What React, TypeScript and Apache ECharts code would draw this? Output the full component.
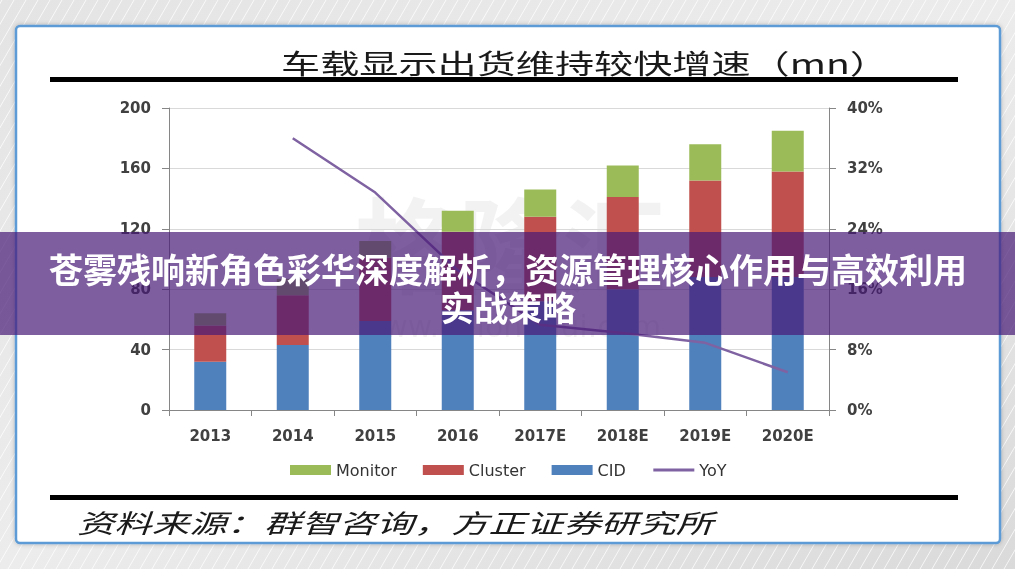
import React, { useEffect, useRef } from 'react';
import * as echarts from 'echarts';

const categories = ['2013', '2014', '2015', '2016', '2017E', '2018E', '2019E', '2020E'];
const cid = [32, 43, 59, 66, 72, 80, 88, 88];
const cluster = [24, 33, 42, 52, 56, 61, 64, 70];
const monitor = [8, 11, 11, 14, 18, 21, 24, 27];
const yoy = [null, 36, 28.8, 18.5, 11.3, 10.2, 8.9, 5.0];
const leftTicks = [0, 40, 80, 120, 160, 200];
const rightTicks = [0, 8, 16, 24, 32, 40];
const legendNames = ['Monitor', 'Cluster', 'CID', 'YoY'];
const chartTitle = '车载显示出货维持较快增速（mn）';
const sourceNote = '资料来源：群智咨询，方正证券研究所';
const bannerLines = ['苍雾残响新角色彩华深度解析，资源管理核心作用与高效利用', '实战策略'];
const watermarkMain = '格隆汇';
const watermarkSub = 'www.gelonghui.com';

const W = 1015;
const H = 569;

function buildStripes() {
  const els: any[] = [];
  const dx = H * 0.58;
  for (let x0 = -400; x0 < W + 20; x0 += 12) {
    els.push({
      type: 'line',
      z: -19,
      silent: true,
      shape: { x1: x0, y1: H, x2: x0 + dx, y2: 0 },
      style: { stroke: 'rgba(255,255,255,0.75)', lineWidth: 1 },
    });
  }
  return els;
}

export default function App() {
  const ref = useRef<HTMLDivElement>(null);
  useEffect(() => {
    if (!ref.current) return;
    const chart = echarts.init(ref.current, undefined, { renderer: 'svg' });
    const axisFont = 'DejaVu Sans';
    const cjk = '"Noto Sans CJK SC", sans-serif';
    const option: any = {
      animation: false,
      grid: { left: 169, right: W - 829, top: 108, bottom: H - 410 },
      legend: {
        data: [
          { name: legendNames[0], icon: 'rect' },
          { name: legendNames[1], icon: 'rect' },
          { name: legendNames[2], icon: 'rect' },
          { name: legendNames[3], itemStyle: { opacity: 0 }, lineStyle: { width: 3 } },
        ],
        left: 285,
        top: 457,
        itemWidth: 41,
        itemHeight: 10,
        itemGap: 26,
        textStyle: { fontFamily: axisFont, fontSize: 16, color: '#333' },
      },
      xAxis: {
        type: 'category',
        data: categories,
        axisLine: { lineStyle: { color: '#868686', width: 1 } },
        axisTick: { show: true, length: 6, lineStyle: { color: '#868686' } },
        axisLabel: { color: '#404040', fontFamily: axisFont, fontWeight: 'bold', fontSize: 15, margin: 18 },
      },
      yAxis: [
        {
          type: 'value',
          min: leftTicks[0],
          max: leftTicks[leftTicks.length - 1],
          interval: leftTicks[1] - leftTicks[0],
          axisLine: { show: true, lineStyle: { color: '#868686' } },
          axisTick: { show: true, length: 7, lineStyle: { color: '#868686' } },
          splitLine: { lineStyle: { color: '#d9d9d9' } },
          axisLabel: { color: '#404040', fontFamily: axisFont, fontWeight: 'bold', fontSize: 15, margin: 18 },
        },
        {
          type: 'value',
          position: 'right',
          min: rightTicks[0],
          max: rightTicks[rightTicks.length - 1],
          interval: rightTicks[1] - rightTicks[0],
          axisLine: { show: true, lineStyle: { color: '#868686' } },
          axisTick: { show: true, length: 7, lineStyle: { color: '#868686' } },
          splitLine: { show: false },
          axisLabel: {
            color: '#404040', fontFamily: axisFont, fontWeight: 'bold', fontSize: 15, margin: 18,
            formatter: '{value}%',
          },
        },
      ],
      series: [
        { name: 'CID', type: 'bar', stack: 'total', barWidth: 32, itemStyle: { color: '#4f81bd' }, data: cid },
        { name: 'Cluster', type: 'bar', stack: 'total', barWidth: 32, itemStyle: { color: '#c0504d' }, data: cluster },
        { name: 'Monitor', type: 'bar', stack: 'total', barWidth: 32, itemStyle: { color: '#9bbb59' }, data: monitor },
        {
          name: 'YoY', type: 'line', yAxisIndex: 1, symbol: 'none', data: yoy,
          lineStyle: { color: '#7f62a1', width: 2.5 }, itemStyle: { color: '#7f62a1' },
        },
      ],
      graphic: [
        {
          type: 'rect', z: -20, silent: true,
          shape: { x: 0, y: 0, width: W, height: H },
          style: {
            fill: new echarts.graphic.LinearGradient(0, 0, 1, 1, [
              { offset: 0, color: '#e4e4e4' },
              { offset: 0.5, color: '#ececec' },
              { offset: 1, color: '#dadada' },
            ]),
          },
        },
        ...buildStripes(),
        {
          type: 'rect', z: -10, silent: true,
          shape: { x: 16, y: 26, width: 984, height: 517, r: 4 },
          style: { fill: '#ffffff', stroke: '#5b9bd5', lineWidth: 2.5, shadowBlur: 4, shadowColor: 'rgba(0,0,0,0.25)' },
        },
        {
          type: 'rect', z: -9, silent: true,
          shape: { x: 50, y: 77, width: 908, height: 5 },
          style: { fill: '#000' },
        },
        {
          type: 'rect', z: -9, silent: true,
          shape: { x: 50, y: 495, width: 908, height: 5 },
          style: { fill: '#000' },
        },
        {
          type: 'text', z: -9, x: 585, y: 62, scaleX: 1.45, silent: true,
          style: {
            text: chartTitle, fill: '#1a1a1a', fontSize: 27, fontFamily: cjk,
            align: 'center', verticalAlign: 'middle', textAlign: 'center', textVerticalAlign: 'middle',
          },
        },
        {
          type: 'text', z: -9, x: 395, y: 522, scaleX: 1.44, silent: true,
          style: {
            text: sourceNote, fill: '#1a1a1a', fontSize: 26, fontStyle: 'italic', fontFamily: cjk,
            align: 'center', verticalAlign: 'middle', textAlign: 'center', textVerticalAlign: 'middle',
          },
        },
        {
          type: 'text', z: -8, x: 510, y: 240, silent: true,
          style: {
            text: watermarkMain, fill: 'rgba(0,0,0,0.05)', fontSize: 104, fontWeight: 'bold', fontFamily: cjk,
            align: 'center', verticalAlign: 'middle', textAlign: 'center', textVerticalAlign: 'middle',
          },
        },
        {
          type: 'text', z: -8, x: 510, y: 326, silent: true,
          style: {
            text: watermarkSub, fill: 'rgba(0,0,0,0.05)', fontSize: 30, fontFamily: 'DejaVu Sans',
            align: 'center', verticalAlign: 'middle', textAlign: 'center', textVerticalAlign: 'middle',
          },
        },
        {
          type: 'rect', z: 100, silent: true,
          shape: { x: 0, y: 232, width: W, height: 103 },
          style: { fill: 'rgba(72,25,119,0.7)' },
        },
        {
          type: 'text', z: 101, x: 508, y: 268, silent: true,
          style: {
            text: bannerLines[0], fill: '#ffffff', fontSize: 34, fontWeight: 'bold', fontFamily: cjk,
            align: 'center', verticalAlign: 'middle', textAlign: 'center', textVerticalAlign: 'middle',
            shadowBlur: 2, shadowColor: 'rgba(0,0,0,0.3)',
          },
        },
        {
          type: 'text', z: 101, x: 508, y: 306, silent: true,
          style: {
            text: bannerLines[1], fill: '#ffffff', fontSize: 34, fontWeight: 'bold', fontFamily: cjk,
            align: 'center', verticalAlign: 'middle', textAlign: 'center', textVerticalAlign: 'middle',
            shadowBlur: 2, shadowColor: 'rgba(0,0,0,0.3)',
          },
        },
      ],
    };
    chart.setOption(option);
    return () => chart.dispose();
  }, []);
  return (
    <div
      ref={ref}
      style={{ position: 'fixed', left: 0, top: 0, width: W, height: H }}
    />
  );
}
